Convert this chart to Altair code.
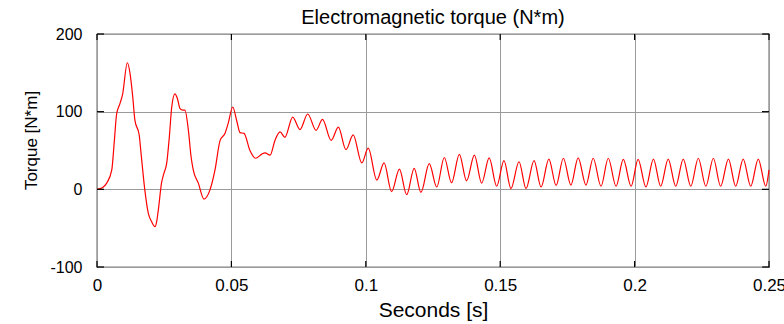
import altair as alt
import pandas as pd

# ---- data (time in s, torque in N*m) ----
t_s = [
    0.0, 0.002, 0.0036, 0.0055, 0.0064, 0.0073, 0.0085, 0.0095, 0.0113,
    0.0123, 0.0133, 0.0141, 0.0157, 0.0164, 0.0178, 0.0191, 0.0203, 0.0216,
    0.0222, 0.0228, 0.024, 0.0249, 0.0259, 0.0269, 0.0278, 0.029, 0.0299,
    0.0309, 0.0319, 0.0327, 0.034, 0.035, 0.0358, 0.0377, 0.0398, 0.042,
    0.0439, 0.0458, 0.0476, 0.0488, 0.0505,
    0.052, 0.0532, 0.0547, 0.0569, 0.059, 0.0612, 0.0625, 0.0644, 0.0662,
    0.0681, 0.0699, 0.0728, 0.0755, 0.0784, 0.0815, 0.0839, 0.0871, 0.0898,
    0.0926, 0.0953, 0.0985, 0.1009,
    0.1041, 0.1068, 0.1096, 0.1125, 0.1152, 0.118, 0.1205, 0.1236, 0.1264,
    0.1292, 0.1319, 0.1348, 0.1375, 0.1404, 0.1431, 0.1459, 0.1487, 0.1514,
    0.154, 0.157, 0.1596, 0.1626, 0.1652, 0.1681, 0.1708, 0.1735, 0.1763,
    0.179, 0.1819, 0.1846, 0.1875, 0.1902, 0.1931, 0.1958, 0.1987, 0.2013,
    0.2042, 0.207, 0.2097, 0.2125, 0.2153, 0.2181, 0.2209, 0.2237, 0.2265,
    0.2293, 0.232, 0.2349, 0.2376, 0.2404, 0.2432, 0.246, 0.2488, 0.25,
]
torque_nm = [
    0, 2, 8, 25, 60, 97, 110, 122, 163,
    149, 119, 89, 70, 46, -1, -31, -41.5, -48,
    -41.5, -27, 8, 20.5, 33, 67, 106, 123, 117,
    104, 102, 102, 76, 42, 25, 8, -12.5, -1,
    25, 63, 72, 85, 106,
    88, 73, 72, 50, 40, 45, 47, 44, 63,
    74, 67, 93, 77, 97, 76, 90, 63, 80,
    51, 70, 34, 53,
    12, 34, -3, 26, -7, 27, -4, 33, 3,
    41, 8.5, 45, 11, 44, 8, 40.5, 4, 37,
    1, 35.5, 1, 37, 3, 39, 5, 40, 5.5,
    40.5, 5.5, 40, 4, 40, 4, 38.5, 4, 38.5,
    3, 39, 4, 39, 4, 39, 4, 40, 4,
    40, 4, 39, 4, 39, 4, 39, 4, 25,
]
x_ticks = [0, 0.05, 0.1, 0.15, 0.2, 0.25]
y_ticks = [-100, 0, 100, 200]

W, H = 672, 233
FONT = "Liberation Sans"

df = pd.DataFrame({"t": t_s, "torque": torque_nm})
xt = pd.DataFrame({"t": x_ticks})
yt = pd.DataFrame({"torque": y_ticks})

xscale = alt.Scale(domain=[0, 0.25], nice=False, zero=False)
yscale = alt.Scale(domain=[-100, 200], nice=False, zero=False)

x_axis = alt.Axis(
    values=x_ticks, labelExpr="toString(datum.value)",
    ticks=False, tickSize=0, domain=False,
    grid=True, gridColor="#9a9a9a", gridWidth=1,
    labelFont=FONT, labelFontSize=17, labelColor="black",
    labelBaseline="alphabetic", labelPadding=23,
    labelFlush=False, labelOverlap=False,
    title="Seconds [s]", titleFont=FONT, titleFontSize=21,
    titleFontWeight="normal", titleColor="black",
    titleBaseline="alphabetic", titleY=49,
)
y_axis = alt.Axis(
    values=y_ticks, labelExpr="toString(datum.value)",
    ticks=False, tickSize=0, domain=False,
    grid=True, gridColor="#9a9a9a", gridWidth=1,
    labelFont=FONT, labelFontSize=16, labelColor="black",
    labelBaseline="middle", labelPadding=15,
    labelFlush=False, labelOverlap=False,
    title="Torque [N*m]", titleFont=FONT, titleFontSize=17,
    titleFontWeight="normal", titleColor="black",
    titleBaseline="alphabetic", titleX=-61, titleY=106,
)

line = alt.Chart(df).mark_line(
    color="#ff0000", strokeWidth=1.2, interpolate="monotone"
).encode(
    x=alt.X("t:Q", scale=xscale, axis=x_axis),
    y=alt.Y("torque:Q", scale=yscale, axis=y_axis),
)

tick_top = alt.Chart(xt).mark_rule(color="black", strokeWidth=1.2).encode(
    x=alt.X("t:Q", scale=xscale), y=alt.value(0), y2=alt.value(6)
)
tick_bot = alt.Chart(xt).mark_rule(color="black", strokeWidth=1.2).encode(
    x=alt.X("t:Q", scale=xscale), y=alt.value(H - 6), y2=alt.value(H)
)
tick_left = alt.Chart(yt).mark_rule(color="black", strokeWidth=1.2).encode(
    y=alt.Y("torque:Q", scale=yscale), x=alt.value(0), x2=alt.value(7)
)
tick_right = alt.Chart(yt).mark_rule(color="black", strokeWidth=1.2).encode(
    y=alt.Y("torque:Q", scale=yscale), x=alt.value(W - 7), x2=alt.value(W)
)

chart = alt.layer(line, tick_top, tick_bot, tick_left, tick_right).properties(
    width=W, height=H,
    background="white",
    title=alt.TitleParams(
        "Electromagnetic torque (N*m)", font=FONT, fontSize=20,
        fontWeight="normal", color="black", anchor="middle",
        baseline="alphabetic", offset=6, dy=24, frame="group",
    ),
    autosize=alt.AutoSizeParams(type="none"),
    padding={"left": 97, "top": 34, "right": 15, "bottom": 57},
).configure_view(stroke="black", strokeWidth=1.2)

chart.save("out.html", embed_options={"renderer": "svg", "actions": False})
